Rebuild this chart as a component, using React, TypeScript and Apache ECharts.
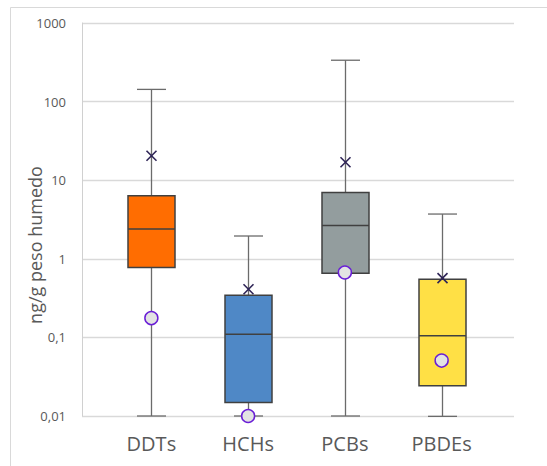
import React, { useEffect, useRef } from 'react';
import * as echarts from 'echarts';

const categories = ['DDTs', 'HCHs', 'PCBs', 'PBDEs'];
const whiskerLow = [0.01, 0.01, 0.01, 0.0099];
const q1 = [0.776, 0.0148, 0.657, 0.0243];
const median = [2.39, 0.11, 2.66, 0.105];
const q3 = [6.35, 0.345, 7.0, 0.551];
const whiskerHigh = [143, 1.95, 336, 3.71];
const means = [20.5, 0.41, 16.9, 0.568];
const circles = [0.176, 0.01, 0.67, 0.0507];
const yTickLabels = ['0,01', '0,1', '1', '10', '100', '1000'];

const boxColors = ['#FF6D01', '#4F88C6', '#939D9E', '#FFE045'];
const FONT = 'Open Sans';

export default function App() {
  const ref = useRef<HTMLDivElement>(null);
  useEffect(() => {
    if (!ref.current) return;
    const chart = echarts.init(ref.current, null, { renderer: 'svg' });
    const boxData = categories.map((_, i) => [i, whiskerLow[i], q1[i], median[i], q3[i], whiskerHigh[i]]);
    const meanData = categories.map((_, i) => [i, means[i]]);
    const circleData = categories.map((_, i) => [i, circles[i]]);
    const logAxisBase = {
      type: 'log' as const,
      logBase: 10,
      min: 0.01,
      max: 1000,
    };
    chart.setOption({
      animation: false,
      graphic: [
        {
          type: 'rect',
          shape: { x: 10.5, y: 7.5, width: 700, height: 600 },
          style: { fill: 'none', stroke: '#d9d9d9', lineWidth: 1 },
          silent: true,
          z: -10,
        },
        {
          type: 'text',
          x: 35,
          y: 245,
          rotation: Math.PI / 2,
          style: {
            text: 'ng/g peso humedo',
            fontSize: 18,
            fontFamily: FONT,
            fill: '#595959',
            align: 'center',
            verticalAlign: 'middle',
          },
        },
      ],
      grid: [
        { left: 82, right: 33, top: 23, bottom: 50 },
        { left: 103, right: 57, top: 23, bottom: 50 },
      ],
      xAxis: [
        { type: 'value', gridIndex: 0, show: false, min: 0, max: 1 },
        {
          type: 'category',
          gridIndex: 1,
          data: categories,
          axisLine: { show: false },
          axisTick: { show: false },
          axisLabel: { fontSize: 20, color: '#595959', fontFamily: FONT, margin: 17 },
        },
      ],
      yAxis: [
        {
          ...logAxisBase,
          gridIndex: 0,
          axisLine: { show: true, lineStyle: { color: '#d0d0d0', width: 1 } },
          axisTick: { show: false },
          splitLine: { show: true, lineStyle: { color: '#d9d9d9', width: 1.3 } },
          axisLabel: {
            fontSize: 13,
            color: '#595959',
            fontFamily: FONT,
            margin: 16,
            formatter: (v: number) => {
              const idx = Math.round(Math.log10(v)) + 2;
              return yTickLabels[idx] ?? String(v);
            },
          },
        },
        { ...logAxisBase, gridIndex: 1, show: false },
      ],
      series: [
        {
          type: 'custom',
          xAxisIndex: 1,
          yAxisIndex: 1,
          data: boxData,
          encode: { x: 0, y: [1, 2, 3, 4, 5] },
          renderItem: (params: any, api: any) => {
            const i = api.value(0);
            const pLo = api.coord([i, api.value(1)]);
            const pQ1 = api.coord([i, api.value(2)]);
            const pMed = api.coord([i, api.value(3)]);
            const pQ3 = api.coord([i, api.value(4)]);
            const pHi = api.coord([i, api.value(5)]);
            const x = Math.round(pLo[0]) + 0.5;
            const boxW = 47;
            const capW = 29;
            const wStyle = { stroke: '#6b6b6b', lineWidth: 1.3 };
            const bStyle = { stroke: '#404040', lineWidth: 1.5 };
            return {
              type: 'group',
              children: [
                { type: 'line', shape: { x1: x, y1: pHi[1], x2: x, y2: pLo[1] }, style: wStyle },
                { type: 'line', shape: { x1: x - capW / 2, y1: pHi[1], x2: x + capW / 2, y2: pHi[1] }, style: wStyle },
                { type: 'line', shape: { x1: x - capW / 2, y1: pLo[1], x2: x + capW / 2, y2: pLo[1] }, style: wStyle },
                {
                  type: 'rect',
                  shape: { x: x - boxW / 2, y: pQ3[1], width: boxW, height: pQ1[1] - pQ3[1] },
                  style: { ...bStyle, fill: boxColors[params.dataIndex] },
                },
                { type: 'line', shape: { x1: x - boxW / 2, y1: pMed[1], x2: x + boxW / 2, y2: pMed[1] }, style: bStyle },
              ],
            };
          },
          z: 2,
        },
        {
          type: 'custom',
          xAxisIndex: 1,
          yAxisIndex: 1,
          data: meanData,
          encode: { x: 0, y: 1 },
          renderItem: (params: any, api: any) => {
            const p = api.coord([api.value(0), api.value(1)]);
            const s = 5;
            const st = { stroke: '#2E2456', lineWidth: 1.6 };
            const x = Math.round(p[0]) + 0.5;
            return {
              type: 'group',
              children: [
                { type: 'line', shape: { x1: x - s, y1: p[1] - s, x2: x + s, y2: p[1] + s }, style: st },
                { type: 'line', shape: { x1: x - s, y1: p[1] + s, x2: x + s, y2: p[1] - s }, style: st },
              ],
            };
          },
          z: 3,
        },
        {
          type: 'scatter',
          xAxisIndex: 1,
          yAxisIndex: 1,
          data: circleData,
          symbol: 'circle',
          symbolSize: 13,
          itemStyle: { color: '#E3E3E3', borderColor: '#6A1FD6', borderWidth: 1.5, opacity: 1 },
          z: 4,
        },
      ],
    });
    return () => chart.dispose();
  }, []);
  return <div ref={ref} style={{ position: 'absolute', left: 0, top: 0, width: 547, height: 466 }} />;
}
